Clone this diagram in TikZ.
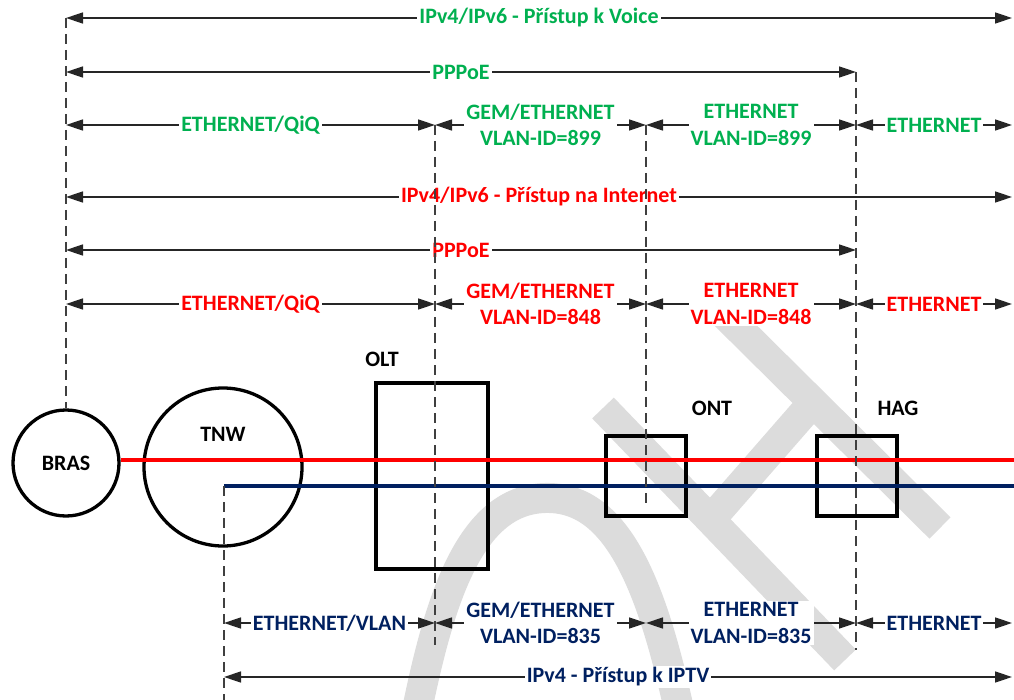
\documentclass[tikz,border=0pt]{standalone}
\usepackage{fontspec}
\setmainfont{Carlito}
\usetikzlibrary{arrows.meta, positioning, calc}
\definecolor{voicegreen}{HTML}{00B050}
\definecolor{netred}{HTML}{FF0000}
\definecolor{tvblue}{HTML}{002060}
\definecolor{markgray}{HTML}{DCDCDC}
\definecolor{guidegray}{HTML}{3F3F3F}
\newcommand{\labfont}{\bfseries\fontsize{22}{26.5}\selectfont}

\begin{document}
\begin{tikzpicture}[x=1pt, y=-1pt,
    dimline/.style={{Triangle[length=17pt,width=11pt]}-{Triangle[length=17pt,width=11pt]},
                    line width=1.5pt, draw=black!85},
    lab/.style={fill=white, inner sep=2pt, font=\labfont, align=center},
    guide/.style={dash pattern=on 10pt off 6pt, line width=1.6pt, draw=guidegray},
    device/.style={draw, line width=3.3pt, inner sep=0pt},
    devname/.style={font=\labfont},
    wmark/.style={draw=markgray, line width=30pt},
    flow/.style={line width=3.3pt}
  ]
    \useasboundingbox (0,0) rectangle (1014,700);

    % watermark
    \draw[wmark] (603,408) -- (845,660);
    \draw[wmark] (712,518) -- (815,400);
    \draw[wmark] (718,308) -- (940,528);
    \draw[wmark] (418,705) .. controls (440,600) and (470,500) .. (545,498)
                           .. controls (615,496) and (650,580) .. (678,705);

    % rows of the dimension arrows
    \foreach \r/\y in {voice/18, pppv/72, ethv/125, inet/197, pppi/250, ethi/304,
                       ethp/623, iptv/677}
      \foreach \c/\x in {a/66, t/224, b/435, c/646, d/856, e/1012}
        \coordinate (\r-\c) at (\x,\y);

    % voice
    \draw[dimline] (voice-a) -- node[lab, text=voicegreen] {IPv4/IPv6 - Přístup k Voice} (voice-e);
    \draw[dimline] (pppv-a) -- node[lab, text=voicegreen] {PPPoE} (pppv-d);
    \draw[dimline] (ethv-a) -- node[lab, text=voicegreen] {ETHERNET/QiQ} (ethv-b);
    \draw[dimline] (ethv-b) -- node[lab, text=voicegreen] {GEM/ETHERNET\\VLAN-ID=899} (ethv-c);
    \draw[dimline] (ethv-c) -- node[lab, text=voicegreen] {ETHERNET\\VLAN-ID=899} (ethv-d);
    \draw[dimline] (ethv-d) -- node[lab, text=voicegreen] {ETHERNET} (ethv-e);

    % internet
    \draw[dimline] (inet-a) -- node[lab, text=netred] {IPv4/IPv6 - Přístup na Internet} (inet-e);
    \draw[dimline] (pppi-a) -- node[lab, text=netred] {PPPoE} (pppi-d);
    \draw[dimline] (ethi-a) -- node[lab, text=netred] {ETHERNET/QiQ} (ethi-b);
    \draw[dimline] (ethi-b) -- node[lab, text=netred] {GEM/ETHERNET\\VLAN-ID=848} (ethi-c);
    \draw[dimline] (ethi-c) -- node[lab, text=netred] {ETHERNET\\VLAN-ID=848} (ethi-d);
    \draw[dimline] (ethi-d) -- node[lab, text=netred] {ETHERNET} (ethi-e);

    % iptv
    \draw[dimline] (ethp-t) -- node[lab, text=tvblue] {ETHERNET/VLAN} (ethp-b);
    \draw[dimline] (ethp-b) -- node[lab, text=tvblue] {GEM/ETHERNET\\VLAN-ID=835} (ethp-c);
    \draw[dimline] (ethp-c) -- node[lab, text=tvblue] {ETHERNET\\VLAN-ID=835} (ethp-d);
    \draw[dimline] (ethp-d) -- node[lab, text=tvblue] {ETHERNET} (ethp-e);
    \draw[dimline] (iptv-t) -- node[lab, text=tvblue] {IPv4 - Přístup k IPTV} (iptv-e);

    % devices
    \node[device, circle, minimum size=106pt, devname] (bras) at (66,463) {BRAS};
    \node[device, circle, minimum size=158pt] (tnw) at (223,467) {};
    \node[devname] (tnwname) at (223,434) {TNW};
    \node[device, minimum width=112pt, minimum height=186pt] (olt) at (432,476) {};
    \node[devname] (oltname) at (382,359) {OLT};
    \node[device, minimum width=80pt, minimum height=80pt] (ont) at (646,476) {};
    \node[devname] (ontname) at (712,408) {ONT};
    \node[device, minimum width=80pt, minimum height=80pt] (hag) at (857,476) {};
    \node[devname] (hagname) at (898,408) {HAG};

    % traffic lines
    \coordinate (netend) at (1014,460);
    \coordinate (tvstart) at (224,486);
    \coordinate (tvend) at (1014,486);
    \draw[flow, netred] (bras.east |- netend) -- (netend);
    \draw[flow, tvblue] (tvstart) -- (tvend);

    % dashed guides
    \coordinate (oltcut) at (435,645);
    \coordinate (ontcut) at (646,505);
    \coordinate (hagcut) at (856,650);
    \coordinate (tvcut) at (224,700);
    \draw[guide] (voice-a) -- (bras.north);
    \draw[guide] (ethv-b) -- (oltcut);
    \draw[guide] (ethv-c) -- (ontcut);
    \draw[guide] (pppv-d) -- (hagcut);
    \draw[guide] (tvstart) -- (tvcut);
\end{tikzpicture}
\end{document}
